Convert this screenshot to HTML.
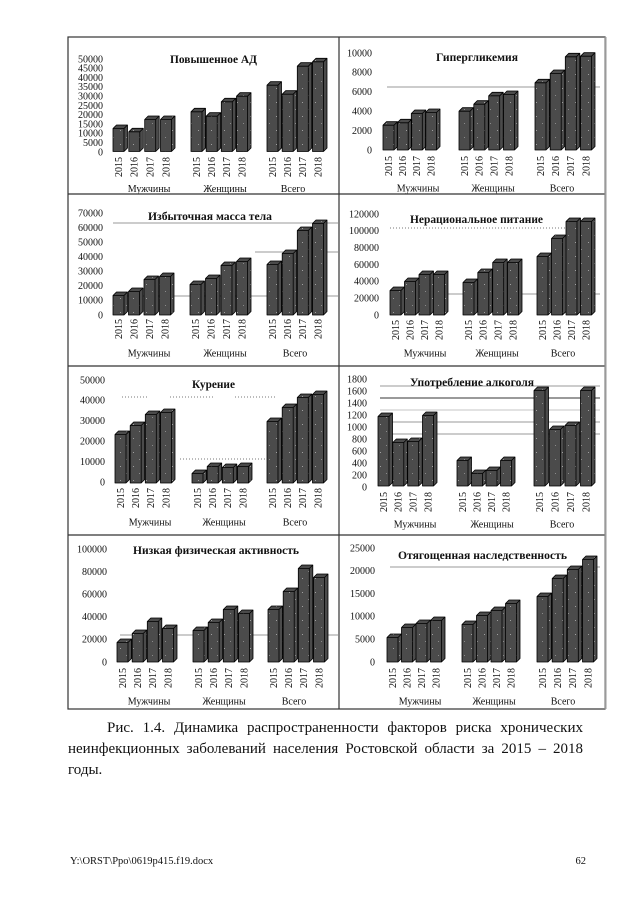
<!DOCTYPE html>
<html>
<head>
<meta charset="utf-8">
<style>
  html,body{margin:0;padding:0;background:#fff;}
  body{width:640px;height:905px;position:relative;overflow:hidden;font-family:"Liberation Serif","Noto Serif CJK SC",serif;}
  svg{position:absolute;left:0;top:0;}
  .ln{position:absolute;font-size:15px;line-height:15px;color:#111;white-space:nowrap;}
  .fx{display:flex;justify-content:space-between;}
</style>
</head>
<body>
<svg width="640" height="905" viewBox="0 0 640 905" xmlns="http://www.w3.org/2000/svg" font-family="Liberation Serif, serif">
  <defs>
    <pattern id="s" width="13" height="14" patternUnits="userSpaceOnUse">
      <rect width="13" height="14" fill="#4b4b4b"/>
      <rect x="3" y="4" width="1" height="1" fill="#a0a0a0"/>
      <rect x="9" y="11" width="1" height="1" fill="#8a8a8a"/>
    </pattern>
  </defs>

  <!-- gridlines -->
  <g stroke="#9a9a9a" stroke-width="1" fill="none">
    <line x1="387" y1="87" x2="600" y2="87"/>
    <line x1="113" y1="223" x2="338" y2="223"/>
    <line x1="255" y1="252" x2="338" y2="252"/>
    <line x1="113" y1="296" x2="338" y2="296"/>
    <line x1="437" y1="294" x2="600" y2="294"/>
    <line x1="380" y1="386" x2="600" y2="386"/>
    <line x1="380" y1="398" x2="600" y2="398" stroke-width="2"/>
    <line x1="380" y1="410" x2="600" y2="410" stroke="#c4c4c4"/>
    <line x1="380" y1="422" x2="600" y2="422"/>
    <line x1="380" y1="434" x2="600" y2="434"/>
    <line x1="120" y1="635" x2="338" y2="635"/>
    <line x1="390" y1="567" x2="600" y2="567"/>
  </g>
  <g stroke="#777" stroke-width="1" stroke-dasharray="1,2" fill="none">
    <line x1="390" y1="228" x2="597" y2="228"/>
    <line x1="122" y1="397" x2="148" y2="397"/>
    <line x1="170" y1="397" x2="213" y2="397"/>
    <line x1="235" y1="397" x2="277" y2="397"/>
    <line x1="180" y1="459" x2="327" y2="459"/>
  </g>

  <!-- bars -->
  <g fill="url(#s)" stroke="#000" stroke-width="0.8" stroke-linejoin="round">
    <path d="M113,128.5h11V151.5h-11zl3.5-3.5h11l-3.5 3.5l3.5-3.5V148l-3.5 3.5
M128.8,131.8h11V151.5h-11zl3.5-3.5h11l-3.5 3.5l3.5-3.5V148l-3.5 3.5
M144.7,119.5h11V151.5h-11zl3.5-3.5h11l-3.5 3.5l3.5-3.5V148l-3.5 3.5
M160.5,119.5h11V151.5h-11zl3.5-3.5h11l-3.5 3.5l3.5-3.5V148l-3.5 3.5
M191,111.8h11V151.5h-11zl3.5-3.5h11l-3.5 3.5l3.5-3.5V148l-3.5 3.5
M206.2,116.2h11V151.5h-11zl3.5-3.5h11l-3.5 3.5l3.5-3.5V148l-3.5 3.5
M221.3,101.8h11V151.5h-11zl3.5-3.5h11l-3.5 3.5l3.5-3.5V148l-3.5 3.5
M236.5,96.2h11V151.5h-11zl3.5-3.5h11l-3.5 3.5l3.5-3.5V148l-3.5 3.5
M267,85.2h11V151.5h-11zl3.5-3.5h11l-3.5 3.5l3.5-3.5V148l-3.5 3.5
M282.2,94.2h11V151.5h-11zl3.5-3.5h11l-3.5 3.5l3.5-3.5V148l-3.5 3.5
M297.3,66.2h11V151.5h-11zl3.5-3.5h11l-3.5 3.5l3.5-3.5V148l-3.5 3.5
M312.5,61.8h11V151.5h-11zl3.5-3.5h11l-3.5 3.5l3.5-3.5V148l-3.5 3.5"/>
    <path d="M383,125.2h11V150h-11zl3.5-3.5h11l-3.5 3.5l3.5-3.5V146.5l-3.5 3.5
M397.2,122.8h11V150h-11zl3.5-3.5h11l-3.5 3.5l3.5-3.5V146.5l-3.5 3.5
M411.3,113.5h11V150h-11zl3.5-3.5h11l-3.5 3.5l3.5-3.5V146.5l-3.5 3.5
M425.5,112.5h11V150h-11zl3.5-3.5h11l-3.5 3.5l3.5-3.5V146.5l-3.5 3.5
M459,111.2h11V150h-11zl3.5-3.5h11l-3.5 3.5l3.5-3.5V146.5l-3.5 3.5
M473.8,104.2h11V150h-11zl3.5-3.5h11l-3.5 3.5l3.5-3.5V146.5l-3.5 3.5
M488.7,95.8h11V150h-11zl3.5-3.5h11l-3.5 3.5l3.5-3.5V146.5l-3.5 3.5
M503.5,94.5h11V150h-11zl3.5-3.5h11l-3.5 3.5l3.5-3.5V146.5l-3.5 3.5
M535,82.8h11V150h-11zl3.5-3.5h11l-3.5 3.5l3.5-3.5V146.5l-3.5 3.5
M550.2,73.5h11V150h-11zl3.5-3.5h11l-3.5 3.5l3.5-3.5V146.5l-3.5 3.5
M565.3,56.8h11V150h-11zl3.5-3.5h11l-3.5 3.5l3.5-3.5V146.5l-3.5 3.5
M580.5,56.2h11V150h-11zl3.5-3.5h11l-3.5 3.5l3.5-3.5V146.5l-3.5 3.5"/>
    <path d="M113,295.5h11V315h-11zl3.5-3.5h11l-3.5 3.5l3.5-3.5V311.5l-3.5 3.5
M128.5,291.5h11V315h-11zl3.5-3.5h11l-3.5 3.5l3.5-3.5V311.5l-3.5 3.5
M144,279.5h11V315h-11zl3.5-3.5h11l-3.5 3.5l3.5-3.5V311.5l-3.5 3.5
M159.5,276.5h11V315h-11zl3.5-3.5h11l-3.5 3.5l3.5-3.5V311.5l-3.5 3.5
M190,284.5h11V315h-11zl3.5-3.5h11l-3.5 3.5l3.5-3.5V311.5l-3.5 3.5
M205.5,278.5h11V315h-11zl3.5-3.5h11l-3.5 3.5l3.5-3.5V311.5l-3.5 3.5
M221,265.5h11V315h-11zl3.5-3.5h11l-3.5 3.5l3.5-3.5V311.5l-3.5 3.5
M236.5,261.5h11V315h-11zl3.5-3.5h11l-3.5 3.5l3.5-3.5V311.5l-3.5 3.5
M267,264.5h11V315h-11zl3.5-3.5h11l-3.5 3.5l3.5-3.5V311.5l-3.5 3.5
M282.2,253.5h11V315h-11zl3.5-3.5h11l-3.5 3.5l3.5-3.5V311.5l-3.5 3.5
M297.3,230.5h11V315h-11zl3.5-3.5h11l-3.5 3.5l3.5-3.5V311.5l-3.5 3.5
M312.5,223.5h11V315h-11zl3.5-3.5h11l-3.5 3.5l3.5-3.5V311.5l-3.5 3.5"/>
    <path d="M390,290.5h11V315h-11zl3.5-3.5h11l-3.5 3.5l3.5-3.5V311.5l-3.5 3.5
M404.5,281.5h11V315h-11zl3.5-3.5h11l-3.5 3.5l3.5-3.5V311.5l-3.5 3.5
M419,274.5h11V315h-11zl3.5-3.5h11l-3.5 3.5l3.5-3.5V311.5l-3.5 3.5
M433.5,274.5h11V315h-11zl3.5-3.5h11l-3.5 3.5l3.5-3.5V311.5l-3.5 3.5
M463,282.5h11V315h-11zl3.5-3.5h11l-3.5 3.5l3.5-3.5V311.5l-3.5 3.5
M477.8,272.5h11V315h-11zl3.5-3.5h11l-3.5 3.5l3.5-3.5V311.5l-3.5 3.5
M492.7,262.5h11V315h-11zl3.5-3.5h11l-3.5 3.5l3.5-3.5V311.5l-3.5 3.5
M507.5,262.5h11V315h-11zl3.5-3.5h11l-3.5 3.5l3.5-3.5V311.5l-3.5 3.5
M537,256.5h11V315h-11zl3.5-3.5h11l-3.5 3.5l3.5-3.5V311.5l-3.5 3.5
M551.5,238.5h11V315h-11zl3.5-3.5h11l-3.5 3.5l3.5-3.5V311.5l-3.5 3.5
M566,221.5h11V315h-11zl3.5-3.5h11l-3.5 3.5l3.5-3.5V311.5l-3.5 3.5
M580.5,221.5h11V315h-11zl3.5-3.5h11l-3.5 3.5l3.5-3.5V311.5l-3.5 3.5"/>
    <path d="M115,434.5h11V483h-11zl3.5-3.5h11l-3.5 3.5l3.5-3.5V479.5l-3.5 3.5
M130.2,425.5h11V483h-11zl3.5-3.5h11l-3.5 3.5l3.5-3.5V479.5l-3.5 3.5
M145.3,414.5h11V483h-11zl3.5-3.5h11l-3.5 3.5l3.5-3.5V479.5l-3.5 3.5
M160.5,412.5h11V483h-11zl3.5-3.5h11l-3.5 3.5l3.5-3.5V479.5l-3.5 3.5
M192,473.5h11V483h-11zl3.5-3.5h11l-3.5 3.5l3.5-3.5V479.5l-3.5 3.5
M207.2,466.5h11V483h-11zl3.5-3.5h11l-3.5 3.5l3.5-3.5V479.5l-3.5 3.5
M222.3,467.5h11V483h-11zl3.5-3.5h11l-3.5 3.5l3.5-3.5V479.5l-3.5 3.5
M237.5,466.5h11V483h-11zl3.5-3.5h11l-3.5 3.5l3.5-3.5V479.5l-3.5 3.5
M267,421.5h11V483h-11zl3.5-3.5h11l-3.5 3.5l3.5-3.5V479.5l-3.5 3.5
M282.2,407.5h11V483h-11zl3.5-3.5h11l-3.5 3.5l3.5-3.5V479.5l-3.5 3.5
M297.3,397.5h11V483h-11zl3.5-3.5h11l-3.5 3.5l3.5-3.5V479.5l-3.5 3.5
M312.5,394.5h11V483h-11zl3.5-3.5h11l-3.5 3.5l3.5-3.5V479.5l-3.5 3.5"/>
    <path d="M378,416.5h11V486h-11zl3.5-3.5h11l-3.5 3.5l3.5-3.5V482.5l-3.5 3.5
M392.8,442.5h11V486h-11zl3.5-3.5h11l-3.5 3.5l3.5-3.5V482.5l-3.5 3.5
M407.7,441.5h11V486h-11zl3.5-3.5h11l-3.5 3.5l3.5-3.5V482.5l-3.5 3.5
M422.5,415.5h11V486h-11zl3.5-3.5h11l-3.5 3.5l3.5-3.5V482.5l-3.5 3.5
M457,460.5h11V486h-11zl3.5-3.5h11l-3.5 3.5l3.5-3.5V482.5l-3.5 3.5
M471.5,473.5h11V486h-11zl3.5-3.5h11l-3.5 3.5l3.5-3.5V482.5l-3.5 3.5
M486,470.5h11V486h-11zl3.5-3.5h11l-3.5 3.5l3.5-3.5V482.5l-3.5 3.5
M500.5,460.5h11V486h-11zl3.5-3.5h11l-3.5 3.5l3.5-3.5V482.5l-3.5 3.5
M534,390.5h11V486h-11zl3.5-3.5h11l-3.5 3.5l3.5-3.5V482.5l-3.5 3.5
M549.5,429.5h11V486h-11zl3.5-3.5h11l-3.5 3.5l3.5-3.5V482.5l-3.5 3.5
M565,425.5h11V486h-11zl3.5-3.5h11l-3.5 3.5l3.5-3.5V482.5l-3.5 3.5
M580.5,390.5h11V486h-11zl3.5-3.5h11l-3.5 3.5l3.5-3.5V482.5l-3.5 3.5"/>
    <path d="M117,642.5h11V662h-11zl3.5-3.5h11l-3.5 3.5l3.5-3.5V658.5l-3.5 3.5
M132.2,633.5h11V662h-11zl3.5-3.5h11l-3.5 3.5l3.5-3.5V658.5l-3.5 3.5
M147.3,621.5h11V662h-11zl3.5-3.5h11l-3.5 3.5l3.5-3.5V658.5l-3.5 3.5
M162.5,628.5h11V662h-11zl3.5-3.5h11l-3.5 3.5l3.5-3.5V658.5l-3.5 3.5
M193,630.5h11V662h-11zl3.5-3.5h11l-3.5 3.5l3.5-3.5V658.5l-3.5 3.5
M208.2,622.5h11V662h-11zl3.5-3.5h11l-3.5 3.5l3.5-3.5V658.5l-3.5 3.5
M223.3,609.5h11V662h-11zl3.5-3.5h11l-3.5 3.5l3.5-3.5V658.5l-3.5 3.5
M238.5,613.5h11V662h-11zl3.5-3.5h11l-3.5 3.5l3.5-3.5V658.5l-3.5 3.5
M268,609.5h11V662h-11zl3.5-3.5h11l-3.5 3.5l3.5-3.5V658.5l-3.5 3.5
M283.2,591.5h11V662h-11zl3.5-3.5h11l-3.5 3.5l3.5-3.5V658.5l-3.5 3.5
M298.3,568.5h11V662h-11zl3.5-3.5h11l-3.5 3.5l3.5-3.5V658.5l-3.5 3.5
M313.5,577.5h11V662h-11zl3.5-3.5h11l-3.5 3.5l3.5-3.5V658.5l-3.5 3.5"/>
    <path d="M387,637.5h11V662h-11zl3.5-3.5h11l-3.5 3.5l3.5-3.5V658.5l-3.5 3.5
M401.5,627.5h11V662h-11zl3.5-3.5h11l-3.5 3.5l3.5-3.5V658.5l-3.5 3.5
M416,623.5h11V662h-11zl3.5-3.5h11l-3.5 3.5l3.5-3.5V658.5l-3.5 3.5
M430.5,620.5h11V662h-11zl3.5-3.5h11l-3.5 3.5l3.5-3.5V658.5l-3.5 3.5
M462,624.5h11V662h-11zl3.5-3.5h11l-3.5 3.5l3.5-3.5V658.5l-3.5 3.5
M476.5,615.5h11V662h-11zl3.5-3.5h11l-3.5 3.5l3.5-3.5V658.5l-3.5 3.5
M491,610.5h11V662h-11zl3.5-3.5h11l-3.5 3.5l3.5-3.5V658.5l-3.5 3.5
M505.5,603.5h11V662h-11zl3.5-3.5h11l-3.5 3.5l3.5-3.5V658.5l-3.5 3.5
M537,596.5h11V662h-11zl3.5-3.5h11l-3.5 3.5l3.5-3.5V658.5l-3.5 3.5
M552.2,578.5h11V662h-11zl3.5-3.5h11l-3.5 3.5l3.5-3.5V658.5l-3.5 3.5
M567.3,569.5h11V662h-11zl3.5-3.5h11l-3.5 3.5l3.5-3.5V658.5l-3.5 3.5
M582.5,559.5h11V662h-11zl3.5-3.5h11l-3.5 3.5l3.5-3.5V658.5l-3.5 3.5"/>
  </g>

  <!-- y tick labels -->
  <g font-size="10" text-anchor="end" fill="#111">
    <text x="103" y="62.3">50000</text><text x="103" y="71.6">45000</text><text x="103" y="80.9">40000</text><text x="103" y="90.2">35000</text><text x="103" y="99.5">30000</text><text x="103" y="108.8">25000</text><text x="103" y="118.1">20000</text><text x="103" y="127.4">15000</text><text x="103" y="136.7">10000</text><text x="103" y="146">5000</text><text x="103" y="155.3">0</text>

    <text x="372" y="56.3">10000</text><text x="372" y="75.7">8000</text><text x="372" y="95.1">6000</text><text x="372" y="114.5">4000</text><text x="372" y="133.9">2000</text><text x="372" y="153.3">0</text>

    <text x="103" y="216.3">70000</text><text x="103" y="230.9">60000</text><text x="103" y="245.4">50000</text><text x="103" y="260">40000</text><text x="103" y="274.6">30000</text><text x="103" y="289.2">20000</text><text x="103" y="303.7">10000</text><text x="103" y="318.3">0</text>

    <text x="379" y="217.3">120000</text><text x="379" y="234.1">100000</text><text x="379" y="251">80000</text><text x="379" y="267.8">60000</text><text x="379" y="284.6">40000</text><text x="379" y="301.5">20000</text><text x="379" y="318.3">0</text>

    <text x="105" y="383.3">50000</text><text x="105" y="403.7">40000</text><text x="105" y="424.1">30000</text><text x="105" y="444.5">20000</text><text x="105" y="464.9">10000</text><text x="105" y="485.3">0</text>

    <text x="367" y="382.3">1800</text><text x="367" y="394.3">1600</text><text x="367" y="406.3">1400</text><text x="367" y="418.3">1200</text><text x="367" y="430.3">1000</text><text x="367" y="442.3">800</text><text x="367" y="454.3">600</text><text x="367" y="466.3">400</text><text x="367" y="478.3">200</text><text x="367" y="490.3">0</text>

    <text x="107" y="552.3">100000</text><text x="107" y="574.9">80000</text><text x="107" y="597.5">60000</text><text x="107" y="620.1">40000</text><text x="107" y="642.7">20000</text><text x="107" y="665.3">0</text>

    <text x="375" y="551.3">25000</text><text x="375" y="574.1">20000</text><text x="375" y="596.9">15000</text><text x="375" y="619.7">10000</text><text x="375" y="642.5">5000</text><text x="375" y="665.3">0</text>
  </g>

  <!-- titles -->
  <g font-size="11.5" font-weight="bold" fill="#111">
    <text x="170" y="62.8" textLength="87" lengthAdjust="spacingAndGlyphs">Повышенное АД</text>
    <text x="436" y="60.8" textLength="82" lengthAdjust="spacingAndGlyphs">Гипергликемия</text>
    <text x="148" y="219.8" textLength="124" lengthAdjust="spacingAndGlyphs">Избыточная масса тела</text>
    <text x="410" y="222.8" textLength="133" lengthAdjust="spacingAndGlyphs">Нерациональное питание</text>
    <text x="192" y="387.8" textLength="43" lengthAdjust="spacingAndGlyphs">Курение</text>
    <text x="410" y="385.8" textLength="124" lengthAdjust="spacingAndGlyphs">Употребление алкоголя</text>
    <text x="133" y="553.8" textLength="166" lengthAdjust="spacingAndGlyphs">Низкая физическая активность</text>
    <text x="398" y="558.8" textLength="169" lengthAdjust="spacingAndGlyphs">Отягощенная наследственность</text>
  </g>

  <!-- year labels -->
  <g font-size="10" text-anchor="end" fill="#111">
    <text transform="translate(121.9,157)rotate(-90)">2015</text><text transform="translate(137.7,157)rotate(-90)">2016</text><text transform="translate(153.6,157)rotate(-90)">2017</text><text transform="translate(169.4,157)rotate(-90)">2018</text>
    <text transform="translate(199.9,157)rotate(-90)">2015</text><text transform="translate(215.1,157)rotate(-90)">2016</text><text transform="translate(230.2,157)rotate(-90)">2017</text><text transform="translate(245.4,157)rotate(-90)">2018</text>
    <text transform="translate(275.9,157)rotate(-90)">2015</text><text transform="translate(291.1,157)rotate(-90)">2016</text><text transform="translate(306.2,157)rotate(-90)">2017</text><text transform="translate(321.4,157)rotate(-90)">2018</text>

    <text transform="translate(391.9,156)rotate(-90)">2015</text><text transform="translate(406.1,156)rotate(-90)">2016</text><text transform="translate(420.2,156)rotate(-90)">2017</text><text transform="translate(434.4,156)rotate(-90)">2018</text>
    <text transform="translate(467.9,156)rotate(-90)">2015</text><text transform="translate(482.7,156)rotate(-90)">2016</text><text transform="translate(497.6,156)rotate(-90)">2017</text><text transform="translate(512.4,156)rotate(-90)">2018</text>
    <text transform="translate(543.9,156)rotate(-90)">2015</text><text transform="translate(559.1,156)rotate(-90)">2016</text><text transform="translate(574.2,156)rotate(-90)">2017</text><text transform="translate(589.4,156)rotate(-90)">2018</text>

    <text transform="translate(121.9,319)rotate(-90)">2015</text><text transform="translate(137.4,319)rotate(-90)">2016</text><text transform="translate(152.9,319)rotate(-90)">2017</text><text transform="translate(168.4,319)rotate(-90)">2018</text>
    <text transform="translate(198.9,319)rotate(-90)">2015</text><text transform="translate(214.4,319)rotate(-90)">2016</text><text transform="translate(229.9,319)rotate(-90)">2017</text><text transform="translate(245.4,319)rotate(-90)">2018</text>
    <text transform="translate(275.9,319)rotate(-90)">2015</text><text transform="translate(291.1,319)rotate(-90)">2016</text><text transform="translate(306.2,319)rotate(-90)">2017</text><text transform="translate(321.4,319)rotate(-90)">2018</text>

    <text transform="translate(398.9,320)rotate(-90)">2015</text><text transform="translate(413.4,320)rotate(-90)">2016</text><text transform="translate(427.9,320)rotate(-90)">2017</text><text transform="translate(442.4,320)rotate(-90)">2018</text>
    <text transform="translate(471.9,320)rotate(-90)">2015</text><text transform="translate(486.7,320)rotate(-90)">2016</text><text transform="translate(501.6,320)rotate(-90)">2017</text><text transform="translate(516.4,320)rotate(-90)">2018</text>
    <text transform="translate(545.9,320)rotate(-90)">2015</text><text transform="translate(560.4,320)rotate(-90)">2016</text><text transform="translate(574.9,320)rotate(-90)">2017</text><text transform="translate(589.4,320)rotate(-90)">2018</text>

    <text transform="translate(123.9,488)rotate(-90)">2015</text><text transform="translate(139.1,488)rotate(-90)">2016</text><text transform="translate(154.2,488)rotate(-90)">2017</text><text transform="translate(169.4,488)rotate(-90)">2018</text>
    <text transform="translate(200.9,488)rotate(-90)">2015</text><text transform="translate(216.1,488)rotate(-90)">2016</text><text transform="translate(231.2,488)rotate(-90)">2017</text><text transform="translate(246.4,488)rotate(-90)">2018</text>
    <text transform="translate(275.9,488)rotate(-90)">2015</text><text transform="translate(291.1,488)rotate(-90)">2016</text><text transform="translate(306.2,488)rotate(-90)">2017</text><text transform="translate(321.4,488)rotate(-90)">2018</text>

    <text transform="translate(386.9,492)rotate(-90)">2015</text><text transform="translate(401.7,492)rotate(-90)">2016</text><text transform="translate(416.6,492)rotate(-90)">2017</text><text transform="translate(431.4,492)rotate(-90)">2018</text>
    <text transform="translate(465.9,492)rotate(-90)">2015</text><text transform="translate(480.4,492)rotate(-90)">2016</text><text transform="translate(494.9,492)rotate(-90)">2017</text><text transform="translate(509.4,492)rotate(-90)">2018</text>
    <text transform="translate(542.9,492)rotate(-90)">2015</text><text transform="translate(558.4,492)rotate(-90)">2016</text><text transform="translate(573.9,492)rotate(-90)">2017</text><text transform="translate(589.4,492)rotate(-90)">2018</text>

    <text transform="translate(125.9,668)rotate(-90)">2015</text><text transform="translate(141.1,668)rotate(-90)">2016</text><text transform="translate(156.2,668)rotate(-90)">2017</text><text transform="translate(171.4,668)rotate(-90)">2018</text>
    <text transform="translate(201.9,668)rotate(-90)">2015</text><text transform="translate(217.1,668)rotate(-90)">2016</text><text transform="translate(232.2,668)rotate(-90)">2017</text><text transform="translate(247.4,668)rotate(-90)">2018</text>
    <text transform="translate(276.9,668)rotate(-90)">2015</text><text transform="translate(292.1,668)rotate(-90)">2016</text><text transform="translate(307.2,668)rotate(-90)">2017</text><text transform="translate(322.4,668)rotate(-90)">2018</text>

    <text transform="translate(395.9,668)rotate(-90)">2015</text><text transform="translate(410.4,668)rotate(-90)">2016</text><text transform="translate(424.9,668)rotate(-90)">2017</text><text transform="translate(439.4,668)rotate(-90)">2018</text>
    <text transform="translate(470.9,668)rotate(-90)">2015</text><text transform="translate(485.4,668)rotate(-90)">2016</text><text transform="translate(499.9,668)rotate(-90)">2017</text><text transform="translate(514.4,668)rotate(-90)">2018</text>
    <text transform="translate(545.9,668)rotate(-90)">2015</text><text transform="translate(561.1,668)rotate(-90)">2016</text><text transform="translate(576.2,668)rotate(-90)">2017</text><text transform="translate(591.4,668)rotate(-90)">2018</text>
  </g>

  <!-- group labels -->
  <g font-size="10" text-anchor="middle" fill="#111">
    <text x="149" y="192">Мужчины</text><text x="225" y="192">Женщины</text><text x="293" y="192">Всего</text>
    <text x="418" y="191.5">Мужчины</text><text x="493" y="191.5">Женщины</text><text x="562" y="191.5">Всего</text>
    <text x="149" y="356.5">Мужчины</text><text x="225" y="356.5">Женщины</text><text x="295" y="356.5">Всего</text>
    <text x="425" y="356.5">Мужчины</text><text x="497" y="356.5">Женщины</text><text x="563" y="356.5">Всего</text>
    <text x="150" y="525.5">Мужчины</text><text x="224" y="525.5">Женщины</text><text x="295" y="525.5">Всего</text>
    <text x="415" y="527.5">Мужчины</text><text x="492" y="527.5">Женщины</text><text x="562" y="527.5">Всего</text>
    <text x="149" y="704.5">Мужчины</text><text x="224" y="704.5">Женщины</text><text x="294" y="704.5">Всего</text>
    <text x="420" y="704.5">Мужчины</text><text x="494" y="704.5">Женщины</text><text x="563" y="704.5">Всего</text>
  </g>

  <!-- table -->
  <g stroke="#333" stroke-width="1.2" fill="none">
    <rect x="68" y="37" width="537" height="672"/>
    <line x1="339" y1="37" x2="339" y2="709"/>
    <line x1="68" y1="194" x2="605" y2="194"/>
    <line x1="68" y1="366" x2="605" y2="366"/>
    <line x1="68" y1="535" x2="605" y2="535"/>
  </g>
  <line x1="605.5" y1="37" x2="605.5" y2="709" stroke="#9a9a9a" stroke-width="2"/>

  <!-- footer -->
  <text x="70" y="864" font-size="10.5" fill="#111">Y:\ORST\Ppo\0619p415.f19.docx</text>
  <text x="586" y="864" font-size="10.5" fill="#111" text-anchor="end">62</text>
</svg>

<div class="ln fx" style="left:107px;top:721px;width:476px;">
  <span>Рис.</span><span>1.4.</span><span>Динамика</span><span>распространенности</span><span>факторов</span><span>риска</span><span>хронических</span>
</div>
<div class="ln fx" style="left:68px;top:742px;width:515px;">
  <span>неинфекционных</span><span>заболеваний</span><span>населения</span><span>Ростовской</span><span>области</span><span>за</span><span>2015</span><span>–</span><span>2018</span>
</div>
<div class="ln" style="left:68px;top:763px;">годы.</div>
</body>
</html>
